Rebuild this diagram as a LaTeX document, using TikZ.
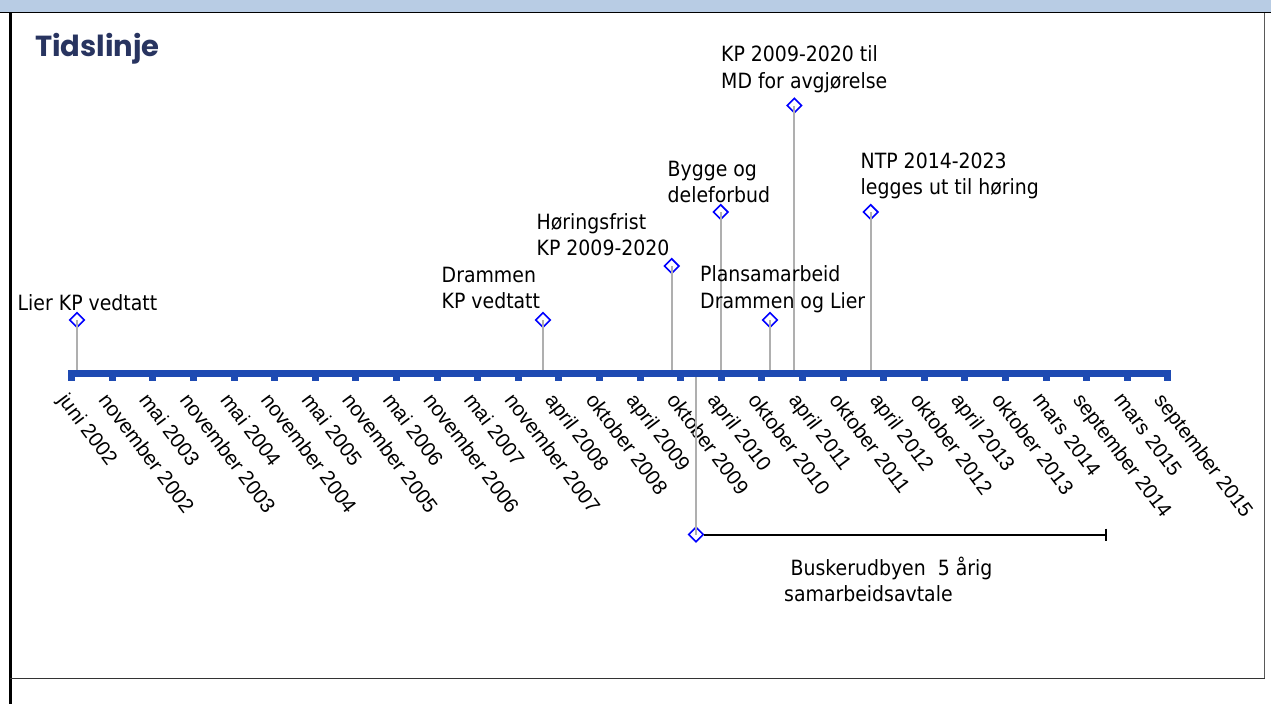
\documentclass[tikz,border=0pt]{standalone}
\usepackage{fontspec}
\setmainfont{Liberation Sans}
\newfontfamily\notefont{DejaVu Sans Condensed}
\newfontfamily\titlefont{Poppins}
\usetikzlibrary{shapes.geometric,arrows.meta}
\definecolor{bandblue}{RGB}{184,204,228}
\definecolor{axisblue}{RGB}{30,74,178}
\definecolor{titlenavy}{RGB}{40,52,96}
\definecolor{stemgrey}{RGB}{175,175,175}
% multi-line event text whose baseline is the first line
\newcommand{\evtext}[1]{\begin{tabular}[t]{@{}l@{}}#1\end{tabular}}

\begin{document}
\begin{tikzpicture}[x=1pt,y=-1pt,
  evmark/.style={diamond, draw=blue, line width=1.6pt, minimum width=15pt, minimum height=15pt, inner sep=0pt},
  stem/.style={draw=stemgrey, line width=2pt},
  evlabel/.style={anchor=base west, inner sep=0pt, font=\notefont\fontsize{21}{26.5}\selectfont},
  datelabel/.style={anchor=north west, rotate=-53, inner sep=0pt, font=\fontsize{20.6}{24}\selectfont},
  ]
\useasboundingbox (0,0) rectangle (1271,704);

% page frame
\fill[bandblue] (0,0) rectangle (1271,12);
\draw[black, line width=1.6pt] (0,12.5) -- (1271,12.5);
\draw[black, line width=2.4pt] (10.5,12) -- (10.5,704);
\draw[gray!70!black, line width=1.5pt] (1264.5,13) -- (1264.5,678);
\draw[black!80, line width=1pt] (10,678) -- (1265,678);

% title
\node[anchor=base west, inner sep=0pt, text=titlenavy,
      font=\titlefont\bfseries\fontsize{29}{34}\selectfont] (title) at (35,56) {Tidslinje};

% time axis with ticks and date labels
\coordinate (axL) at (68,373.5);
\coordinate (axR) at (1171,373.5);
\draw[axisblue, line width=7pt] (axL) -- (axR);
\foreach \lab [count=\i from 0] in {juni 2002, november 2002, mai 2003, november 2003,
    mai 2004, november 2004, mai 2005, november 2005, mai 2006, november 2006,
    mai 2007, november 2007, april 2008, oktober 2008, april 2009, oktober 2009,
    april 2010, oktober 2010, april 2011, oktober 2011, april 2012, oktober 2012,
    april 2013, oktober 2013, mars 2014, september 2014, mars 2015, september 2015}{
  \pgfmathsetmacro\tx{71.7+40.6*\i}
  \fill[axisblue] (\tx-3.5,373) rectangle (\tx+3.5,380.5);
  \node[datelabel] (t\i) at (\tx-2.5,391) {\lab};
}

% event stems and markers
\coordinate (b1) at (77,370);
\coordinate (b2) at (543,370);
\coordinate (b3) at (671.7,370);
\coordinate (b4) at (720.7,370);
\coordinate (b5) at (770,370);
\coordinate (b6) at (794.3,370);
\coordinate (b7) at (870.7,370);
\coordinate (b8) at (696,377);
\node[evmark] (e1) at (77,320) {};
\node[evmark] (e2) at (543,320) {};
\node[evmark] (e3) at (671.7,266) {};
\node[evmark] (e4) at (720.7,212) {};
\node[evmark] (e5) at (770,320) {};
\node[evmark] (e6) at (794.3,105.5) {};
\node[evmark] (e7) at (870.7,212) {};
\node[evmark] (e8) at (696,534.5) {};
\foreach \k in {1,...,7}{
  \draw[stem] (e\k.center) -- (b\k);
}
\draw[stem] (b8) -- (e8.center);

% five-year agreement span
\coordinate (p8) at (1107,534.5);
\draw[black, line width=2pt, -{Bar[width=12pt]}] (e8.east) -- (p8);

% event texts
\node[evlabel] (l1) at (17.5,310) {Lier KP vedtatt};
\node[evlabel] (l2) at (441.5,282) {\evtext{Drammen\\KP vedtatt}};
\node[evlabel] (l3) at (536.5,229) {\evtext{Høringsfrist\\KP 2009-2020}};
\node[evlabel] (l4) at (667.5,176) {\evtext{Bygge og\\deleforbud}};
\node[evlabel] (l5) at (700,281.7) {\evtext{Plansamarbeid\\Drammen og Lier}};
\node[evlabel] (l6) at (721,61.7) {\evtext{KP 2009-2020 til\\MD for avgjørelse}};
\node[evlabel] (l7) at (860.5,168) {\evtext{NTP 2014-2023\\legges ut til høring}};
\node[evlabel] (l8) at (784,575) {\evtext{\hspace*{6.5pt}Buskerudbyen\ \ 5 årig\\samarbeidsavtale}};
\end{tikzpicture}
\end{document}
